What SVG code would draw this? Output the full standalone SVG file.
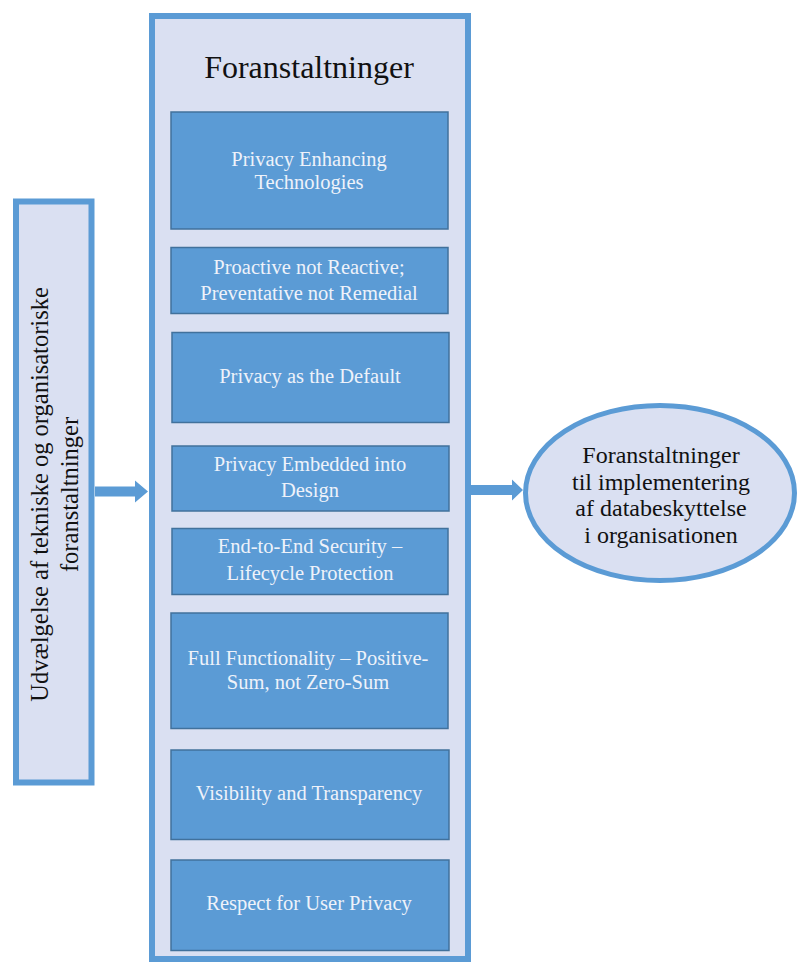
<svg xmlns="http://www.w3.org/2000/svg" width="798" height="962" viewBox="0 0 798 962">
<style>
.panel{fill:#DAE0F2;stroke:#5B9BD5;stroke-width:6}
.item{fill:#5B9BD5;stroke:#41719C;stroke-width:1.5}
.itxt{font-size:20.5px;fill:#EEF2FA;text-anchor:middle}
.dtxt{fill:#111;text-anchor:middle}
.arrow{fill:#5B9BD5}
</style>
<rect width="798" height="962" fill="#FFFFFF"/>
<g font-family="'Liberation Serif', 'DejaVu Serif', serif">
<g id="left-box">
<rect class="panel" x="16" y="201.5" width="75.5" height="581"/>
<text class="dtxt" font-size="24.5" transform="translate(48,494.5) rotate(-90)">Udvælgelse af tekniske og organisatoriske</text>
<text class="dtxt" font-size="24.5" transform="translate(78,494.5) rotate(-90)">foranstaltninger</text>
</g>
<g id="main-panel">
<rect class="panel" x="152" y="16" width="316" height="943"/>
<text class="dtxt" font-size="32" x="309" y="78">Foranstaltninger</text>
</g>
<g id="item-1">
<rect class="item" x="171" y="112" width="277" height="117"/>
<text class="itxt" x="309" y="166">Privacy Enhancing</text>
<text class="itxt" x="309" y="189">Technologies</text>
</g>
<g id="item-2">
<rect class="item" x="171" y="247.5" width="277" height="66"/>
<text class="itxt" x="309" y="274">Proactive not Reactive;</text>
<text class="itxt" x="309" y="300">Preventative not Remedial</text>
</g>
<g id="item-3">
<rect class="item" x="172" y="332.5" width="277" height="90"/>
<text class="itxt" x="310" y="383">Privacy as the Default</text>
</g>
<g id="item-4">
<rect class="item" x="172" y="446" width="277" height="65"/>
<text class="itxt" x="310" y="471">Privacy Embedded into</text>
<text class="itxt" x="310" y="497">Design</text>
</g>
<g id="item-5">
<rect class="item" x="172" y="528.5" width="276" height="66"/>
<text class="itxt" x="310" y="553">End-to-End Security –</text>
<text class="itxt" x="310" y="580">Lifecycle Protection</text>
</g>
<g id="item-6">
<rect class="item" x="171" y="613" width="277" height="115.5"/>
<text class="itxt" x="308" y="665">Full Functionality – Positive-</text>
<text class="itxt" x="308" y="689">Sum, not Zero-Sum</text>
</g>
<g id="item-7">
<rect class="item" x="171" y="750" width="278" height="89.5"/>
<text class="itxt" x="309" y="800">Visibility and Transparency</text>
</g>
<g id="item-8">
<rect class="item" x="171" y="860" width="278" height="90.5"/>
<text class="itxt" x="309" y="910">Respect for User Privacy</text>
</g>
<g id="result">
<ellipse cx="660" cy="493" rx="134.5" ry="87.5" fill="#DAE0F2" stroke="#5B9BD5" stroke-width="5"/>
<text class="dtxt" font-size="24" x="661" y="463">Foranstaltninger</text>
<text class="dtxt" font-size="24" x="661" y="489.5">til implementering</text>
<text class="dtxt" font-size="24" x="661" y="516">af databeskyttelse</text>
<text class="dtxt" font-size="24" x="661" y="542.5">i organisationen</text>
</g>
</g>
<g id="connectors">
<polygon class="arrow" points="95,486.5 135,486.5 135,480.5 148,491.5 135,502.5 135,496.5 95,496.5"/>
<polygon class="arrow" points="470,485 512,485 512,479.5 523,490 512,500.5 512,495 470,495"/>
</g>
</svg>
